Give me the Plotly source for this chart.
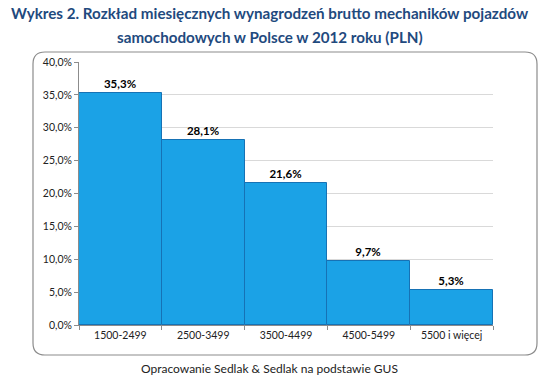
import plotly.graph_objects as go

categories = ["1500-2499", "2500-3499", "3500-4499", "4500-5499", "5500 i więcej"]
values = [0.353, 0.281, 0.216, 0.097, 0.053]
tick_vals = [0, 0.05, 0.10, 0.15, 0.20, 0.25, 0.30, 0.35, 0.40]
title_lines = ["Wykres 2. Rozkład miesięcznych wynagrodzeń brutto mechaników pojazdów",
               "samochodowych w Polsce w 2012 roku (PLN)"]
source_text = "Opracowanie Sedlak & Sedlak na podstawie GUS"

W, H = 539, 381
L, R, T, B = 79, 493, 62, 325
pw, ph = R - L, B - T

def px(x):
    return (x - L) / pw

def py(y):
    return (B - y) / ph

labels = [f"{v*100:.1f}%".replace(".", ",") for v in values]
tick_text = [f"{v*100:.1f}%".replace(".", ",") for v in tick_vals]

fig = go.Figure()
fig.add_trace(go.Bar(
    x=categories, y=values,
    marker=dict(color="#1BA2E6", line=dict(color="#1672B5", width=1)),
    text=labels, textposition="outside",
    textfont=dict(family="Lato", size=11.5, color="#000000", weight="bold"),
    cliponaxis=False,
))

# rounded frame
x0, x1, y0, y1, r = 33, 537, 52, 355, 12
path = (f"M {px(x0+r)} {py(y0)} L {px(x1-r)} {py(y0)} "
        f"Q {px(x1)} {py(y0)} {px(x1)} {py(y0+r)} "
        f"L {px(x1)} {py(y1-r)} Q {px(x1)} {py(y1)} {px(x1-r)} {py(y1)} "
        f"L {px(x0+r)} {py(y1)} Q {px(x0)} {py(y1)} {px(x0)} {py(y1-r)} "
        f"L {px(x0)} {py(y0+r)} Q {px(x0)} {py(y0)} {px(x0+r)} {py(y0)} Z")

fig.update_layout(
    width=W, height=H,
    margin=dict(l=L, r=W - R, t=T, b=H - B),
    paper_bgcolor="white", plot_bgcolor="white",
    bargap=0,
    showlegend=False,
    font=dict(family="Lato", size=10.5, color="#222222"),
    shapes=[dict(type="path", xref="paper", yref="paper", path=path,
                 line=dict(color="#8C8C8C", width=1.2), layer="below")],
    annotations=[
        dict(text=f"<b>{title_lines[0]}</b>", xref="paper", yref="paper",
             x=px(269.5), y=py(13), xanchor="center", yanchor="middle", showarrow=False,
             font=dict(family="Lato", size=15.2, color="#1F4A7E")),
        dict(text=f"<b>{title_lines[1]}</b>", xref="paper", yref="paper",
             x=px(269.5), y=py(37), xanchor="center", yanchor="middle", showarrow=False,
             font=dict(family="Lato", size=15.2, color="#1F4A7E")),
        dict(text=source_text, xref="paper", yref="paper",
             x=px(269), y=py(368), xanchor="center", yanchor="middle", showarrow=False,
             font=dict(family="Lato", size=12, color="#222222")),
    ],
)
fig.update_yaxes(range=[0, 0.4], tickvals=tick_vals, ticktext=tick_text,
                 showgrid=True, gridcolor="#D9D9D9", gridwidth=1,
                 showline=True, linecolor="#8C8C8C", ticks="outside",
                 ticklen=4, tickcolor="#8C8C8C", zeroline=False)
fig.update_xaxes(showline=True, linecolor="#8C8C8C", ticks="outside",
                 tickson="boundaries", ticklen=4, tickcolor="#8C8C8C",
                 tickfont=dict(size=10.5))

fig.write_html("out.html")
